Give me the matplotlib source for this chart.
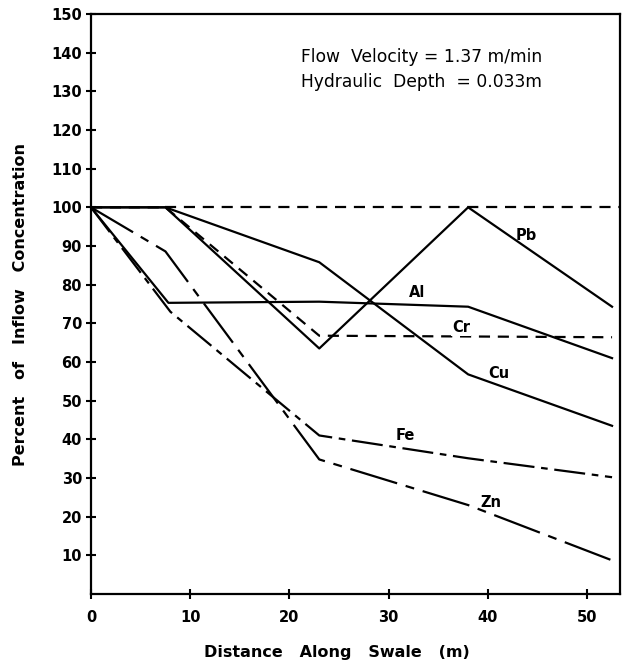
import matplotlib
matplotlib.use("Agg")
import matplotlib.pyplot as plt

# ---- data ----
distance = [0, 7.5, 23, 38, 52.5]
pb = [100, 100, 63.5, 100, 74.3]
cu = [100, 100, 85.8, 56.8, 43.5]
cr = [100, 100, 66.8, 66.6, 66.4]
al_x = [0, 7.8, 23, 38, 52.5]
al = [100, 75.3, 75.6, 74.3, 61.0]
fe_x = [0, 8, 23, 38, 52.5]
fe = [100, 73.0, 41.0, 35.1, 30.2]
zn = [100, 88.6, 34.8, 23.0, 8.7]
ref_x = [7.5, 53.3]
ref = [100, 100]

labels = ["Pb", "Al", "Cr", "Cu", "Fe", "Zn"]
label_x = [43.9, 32.9, 37.3, 41.1, 31.7, 40.3]
label_y = [92.8, 78.1, 68.8, 57.0, 40.9, 23.7]

yticks = [10, 20, 30, 40, 50, 60, 70, 80, 90, 100, 110, 120, 130, 140, 150]
xticks = [0, 10, 20, 30, 40, 50]

fig = plt.figure(figsize=(6.3, 6.65), dpi=100)
ax = fig.add_axes([91/630, 1-594/665, (620-91)/630, (594-14)/665])

lw = 1.6
ax.plot(ref_x, ref, color="black", lw=lw, ls=(0, (5, 3.5)))
ax.plot(distance, pb, color="black", lw=lw)
ax.plot(distance, cu, color="black", lw=lw)
ax.plot(distance, cr, color="black", lw=lw, ls=(0, (5, 3.5)))
ax.plot(al_x, al, color="black", lw=lw)
ax.plot(fe_x, fe, color="black", lw=lw, ls=(0, (14, 3, 3, 3)))
ax.plot(distance, zn, color="black", lw=lw, ls=(0, (22, 4, 4, 4)))

for t, x, y in zip(labels, label_x, label_y):
    ax.text(x, y, t, ha="center", va="center", fontsize=10.5,
            fontweight="bold", color="black",
            bbox=dict(facecolor="white", edgecolor="none", pad=0.5) if t == "Cr" else None)

ax.text(21.2, 138.9, "Flow  Velocity = 1.37 m/min", fontsize=12.3,
        ha="left", va="center", color="black")
ax.text(21.2, 132.4, "Hydraulic  Depth  = 0.033m", fontsize=12.3,
        ha="left", va="center", color="black")

ax.set_xlim(0, 53.3)
ax.set_ylim(0, 150)
ax.set_xticks(xticks)
ax.set_yticks(yticks)
ax.tick_params(direction="inout", length=7, width=1.5, labelsize=10.5)
ax.tick_params(axis="x", pad=8)
ax.tick_params(axis="y", pad=3)
for lab in ax.get_xticklabels() + ax.get_yticklabels():
    lab.set_fontweight("bold")
for s in ax.spines.values():
    s.set_linewidth(1.6)

ax.set_xlabel("Distance   Along   Swale   (m)", fontsize=11.5,
              fontweight="bold")
ax.xaxis.set_label_coords((337 - 91) / 529, -(645 - 594) / 580)
ax.set_ylabel("Percent   of   Inflow   Concentration",
              fontsize=11.5, fontweight="bold", labelpad=17)

fig.savefig("out.png", dpi=100)
